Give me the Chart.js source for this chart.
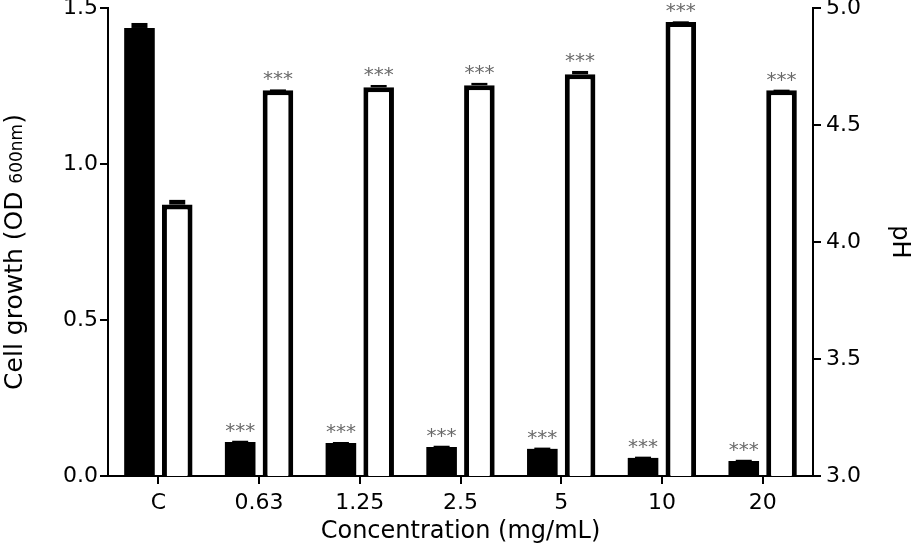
<!DOCTYPE html>
<html>
<head>
<meta charset="utf-8">
<script src="https://cdn.jsdelivr.net/npm/chart.js@4"></script>
<style>
  body { margin: 0; background: #fff; }
</style>
</head>
<body>
<canvas id="chart" width="914" height="547"></canvas>
<script>
const categories = ['C', '0.63', '1.25', '2.5', '5', '10', '20'];
const growth = [1.436, 0.109, 0.106, 0.093, 0.087, 0.058, 0.048];
const growthErr = [0.016, 0.004, 0.003, 0.004, 0.004, 0.004, 0.004];
const ph = [4.16, 4.648, 4.661, 4.67, 4.717, 4.94, 4.648];
const phErr = [0.02, 0.004, 0.01, 0.01, 0.014, 0.003, 0.003];
const growthStars = ['', '***', '***', '***', '***', '***', '***'];
const phStars = ['', '***', '***', '***', '***', '***', '***'];
const growthTicks = [0, 0.5, 1.0, 1.5];
const phTicks = [3.0, 3.5, 4.0, 4.5, 5.0];

const FONT = 'DejaVu Sans';

// error caps + significance stars
const marks = {
  id: 'marks',
  afterDatasetsDraw(chart) {
    const ctx = chart.ctx;
    chart.data.datasets.forEach((ds, i) => {
      const meta = chart.getDatasetMeta(i);
      const yScale = chart.scales[meta.yAxisID];
      meta.data.forEach((bar, j) => {
        const yv = yScale.getPixelForValue(ds.data[j]);
        const ye = yScale.getPixelForValue(ds.data[j] + ds.errors[j]);
        ctx.save();
        ctx.fillStyle = '#000';
        ctx.fillRect(bar.x - 8, ye, 16, Math.max(yv - ye, 2));
        if (ds.stars[j]) {
          ctx.fillStyle = '#6a6a6a';
          ctx.font = '20px "' + FONT + '"';
          ctx.textAlign = 'center';
          ctx.textBaseline = 'alphabetic';
          ctx.fillText(ds.stars[j], bar.x, ye - 4);
        }
        ctx.restore();
      });
    });
  },
  afterDraw(chart) {
    // left axis title with subscript
    const ctx = chart.ctx;
    const main = 'Cell growth (OD ';
    const sub = '600nm';
    const end = ')';
    ctx.save();
    ctx.translate(15, 252);
    ctx.rotate(-Math.PI / 2);
    ctx.fillStyle = '#000';
    ctx.textBaseline = 'middle';
    ctx.textAlign = 'left';
    ctx.font = '25px "' + FONT + '"';
    const w1 = ctx.measureText(main).width;
    const w3 = ctx.measureText(end).width;
    ctx.font = '17px "' + FONT + '"';
    const w2 = ctx.measureText(sub).width;
    let x = -(w1 + w2 + w3) / 2;
    ctx.font = '25px "' + FONT + '"';
    ctx.fillText(main, x, 0);
    x += w1;
    ctx.font = '17px "' + FONT + '"';
    ctx.fillText(sub, x, 3);
    x += w2;
    ctx.font = '25px "' + FONT + '"';
    ctx.fillText(end, x, 0);
    ctx.restore();
  }
};

new Chart(document.getElementById('chart'), {
  type: 'bar',
  data: {
    labels: categories,
    datasets: [
      {
        label: 'Cell growth',
        data: growth,
        errors: growthErr,
        stars: growthStars,
        yAxisID: 'y',
        backgroundColor: '#000',
        borderWidth: 0
      },
      {
        label: 'pH',
        data: ph,
        errors: phErr,
        stars: phStars,
        yAxisID: 'y1',
        backgroundColor: '#fff',
        borderColor: '#000',
        borderWidth: 5
      }
    ]
  },
  options: {
    responsive: false,
    animation: false,
    categoryPercentage: 0.75,
    barPercentage: 0.81,
    layout: { padding: { top: 0, left: 0, right: 0, bottom: 0 } },
    plugins: {
      legend: { display: false },
      tooltip: { enabled: false }
    },
    scales: {
      x: {
        afterFit(scale) { scale.height = 71; },
        grid: { display: true, drawOnChartArea: false, offset: false, color: '#000', lineWidth: 2, tickLength: 8, tickWidth: 2 },
        border: { color: '#000', width: 2 },
        ticks: { color: '#000', font: { family: FONT, size: 22 }, padding: 6, maxRotation: 0 },
        title: { display: true, text: 'Concentration (mg/mL)', color: '#000', font: { family: FONT, size: 24 }, padding: { top: 0, bottom: 1 } }
      },
      y: {
        position: 'left',
        min: 0,
        max: 1.5,
        afterFit(scale) { scale.width = 108; scale.paddingTop = 8; },
        afterBuildTicks(scale) { scale.ticks = growthTicks.map(v => ({ value: v })); },
        grid: { drawOnChartArea: false, color: '#000', lineWidth: 2, tickLength: 8, tickWidth: 2 },
        border: { color: '#000', width: 2 },
        ticks: { color: '#000', font: { family: FONT, size: 22 }, padding: 2, callback: v => Number(v).toFixed(1) }
      },
      y1: {
        position: 'right',
        min: 3,
        max: 5,
        afterFit(scale) { scale.width = 101; scale.paddingTop = 8; },
        afterBuildTicks(scale) { scale.ticks = phTicks.map(v => ({ value: v })); },
        grid: { drawOnChartArea: false, color: '#000', lineWidth: 2, tickLength: 8, tickWidth: 2 },
        border: { color: '#000', width: 2 },
        ticks: { color: '#000', font: { family: FONT, size: 22 }, padding: 5, callback: v => Number(v).toFixed(1) },
        title: { display: true, text: 'pH', color: '#000', font: { family: FONT, size: 24 }, padding: { top: 0, bottom: 0 } }
      }
    }
  },
  plugins: [marks]
});
</script>
</body>
</html>
